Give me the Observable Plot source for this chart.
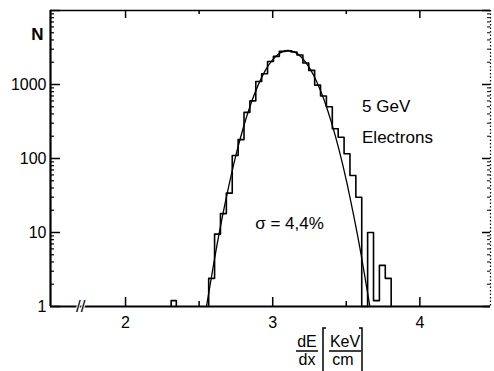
<!DOCTYPE html>
<html><head><meta charset="utf-8">
<script src="https://cdn.jsdelivr.net/npm/d3@7"></script>
<script src="https://cdn.jsdelivr.net/npm/@observablehq/plot@0.6"></script>
<style>
body{margin:0;background:#fff;}
#chart svg{display:block;font-family:"Liberation Sans",Arial,sans-serif;}
</style>
</head><body><div id="chart"></div>
<script>
// Histogram bin edges (dE/dx, KeV/cm) and counts N
const binEdges = [2.565,2.605,2.645,2.685,2.725,2.765,2.805,2.845,2.885,2.925,2.965,3.005,3.045,3.085,3.125,3.165,3.205,3.245,3.285,3.325,3.365,3.405,3.445,3.485,3.525,3.565,3.605,3.645,3.685,3.725,3.765,3.805];
const binCounts = [2.4,9.5,18,34,110,180,420,600,1100,1400,2050,2400,2800,2850,2750,2500,1950,1550,980,700,500,252,194,116,59,30,1,10,1.2,3.6,2.4];
// isolated low bin
const lowBinEdges = [2.31, 2.345];
const lowBinCounts = [1.2];
// Gaussian fit curve
const fitX = [2.55,2.60,2.65,2.70,2.75,2.80,2.85,2.90,2.95,3.00,3.05,3.10,3.15,3.20,3.25,3.30,3.35,3.40,3.45,3.50,3.55,3.60,3.65,3.66];
const fitN = [1.0,3.9,13.6,41,111,260,536,973,1550,2170,2670,2880,2740,2285,1675,1080,611,303,133,51,17,5.1,1.33,1.0];
// axis ticks
const xTickLabels = [2,3,4];
const xMinorTicks = [2.5,3.5];
const yTickLabels = [1,10,100,1000];
const yMinor = [2,3,4,5,6,7,8,9,20,30,40,50,60,70,80,90,200,300,400,500,600,700,800,900,2000,3000,4000,5000,6000,7000,8000,9000];
const xDomain = [1.49, 4.48];
const yDomain = [1, 10000];

function stepPoints(edges, counts) {
  const pts = [{x: edges[0], y: 1}];
  counts.forEach((c, i) => pts.push({x: edges[i], y: c}));
  pts.push({x: edges[edges.length - 1], y: 1});
  return pts;
}
const hist = stepPoints(binEdges, binCounts);
const lowHist = stepPoints(lowBinEdges, lowBinCounts);
const fit = fitX.map((x, i) => ({x, y: fitN[i]}));

const W = 494, H = 371, mL = 50, mR = 4, mT = 10, mB = 65;
const plotH = H - mT - mB, plotW = W - mL - mR;
const FONT = '"Liberation Sans",Arial,sans-serif';

const chart = Plot.plot({
  width: W, height: H,
  marginLeft: mL, marginRight: mR, marginTop: mT, marginBottom: mB,
  x: {domain: xDomain},
  y: {type: "log", domain: yDomain},
  style: {fontSize: "16px", fontFamily: FONT, color: "#000", background: "#fff"},
  marks: [
    // frame
    Plot.ruleX([xDomain[0]], {stroke: "#000", strokeWidth: 2.2}),
    Plot.ruleX([xDomain[1]], {stroke: "#000", strokeWidth: 1.2, strokeDasharray: "1.5,2"}),
    Plot.ruleY([yDomain[0]], {stroke: "#000", strokeWidth: 2.2}),
    Plot.ruleY([yDomain[1]], {stroke: "#000", strokeWidth: 1.6}),
    // bottom ticks (inward)
    Plot.tickX(xTickLabels, {x: d => d, stroke: "#000", strokeWidth: 1.5, insetTop: plotH - 9}),
    Plot.tickX(xMinorTicks, {x: d => d, stroke: "#000", strokeWidth: 1.5, insetTop: plotH - 5}),
    // top ticks (inward)
    Plot.tickX(xTickLabels, {x: d => d, stroke: "#000", strokeWidth: 1.5, insetBottom: plotH - 8}),
    Plot.tickX(xMinorTicks, {x: d => d, stroke: "#000", strokeWidth: 1.5, insetBottom: plotH - 4}),
    // left ticks
    Plot.tickY(yTickLabels.concat([10000]), {y: d => d, stroke: "#000", strokeWidth: 1.5, insetRight: plotW - 10}),
    Plot.tickY(yMinor, {y: d => d, stroke: "#000", strokeWidth: 1.2, insetRight: plotW - 4}),
    // right ticks
    Plot.tickY(yTickLabels.concat([10000]), {y: d => d, stroke: "#000", strokeWidth: 1.5, insetLeft: plotW - 8}),
    Plot.tickY(yMinor, {y: d => d, stroke: "#000", strokeWidth: 1, insetLeft: plotW - 3}),
    // axis labels
    Plot.axisX({ticks: xTickLabels, tickSize: 0, tickPadding: 10, tickFormat: d => String(d), fontSize: 16, label: null}),
    Plot.axisY({ticks: yTickLabels, tickSize: 0, tickPadding: 4, tickFormat: d => String(d), fontSize: 16, label: null}),
    // axis break
    Plot.text(["//"], {x: 1.695, y: 1, text: d => d, fontSize: 17, fill: "#000", stroke: "#fff", strokeWidth: 2, dy: 0}),
    // histogram and fit
    Plot.line(hist, {x: "x", y: "y", curve: "step-after", stroke: "#000", strokeWidth: 1.6}),
    Plot.line(lowHist, {x: "x", y: "y", curve: "step-after", stroke: "#000", strokeWidth: 1.6}),
    Plot.line(fit, {x: "x", y: "y", curve: "natural", stroke: "#000", strokeWidth: 1.3}),
    // annotations
    Plot.text(["5 GeV"], {x: 3.607, y: 420, text: d => d, textAnchor: "start", lineAnchor: "bottom", fontSize: 17, letterSpacing: 0.3}),
    Plot.text(["Electrons"], {x: 3.607, y: 164, text: d => d, textAnchor: "start", lineAnchor: "bottom", fontSize: 17, letterSpacing: 1.3}),
    Plot.text(["σ = 4,4%"], {x: 2.881, y: 11.3, text: d => d, textAnchor: "start", lineAnchor: "bottom", fontSize: 17, letterSpacing: 1.2}),
    Plot.text(["N"], {frameAnchor: "top-left", text: d => d, dx: -13, dy: 17, fontSize: 17, fontWeight: "bold", textAnchor: "middle"})
  ]
});
document.getElementById("chart").appendChild(chart);

// x-axis label: dE/dx [KeV/cm]
const svg = d3.select(chart);
const g = svg.append("g").attr("fill", "#000").attr("font-size", 16).attr("font-family", FONT);
g.append("text").attr("x", 307).attr("y", 347).attr("text-anchor", "middle").text("dE");
g.append("text").attr("x", 307).attr("y", 365).attr("text-anchor", "middle").text("dx");
g.append("text").attr("x", 345).attr("y", 347).attr("text-anchor", "middle").text("KeV");
g.append("text").attr("x", 343).attr("y", 365).attr("text-anchor", "middle").text("cm");
const ln = svg.append("g").attr("stroke", "#000").attr("fill", "none").attr("stroke-width", 1.5);
ln.append("line").attr("x1", 296).attr("x2", 318).attr("y1", 351).attr("y2", 351);
ln.append("line").attr("x1", 329).attr("x2", 361).attr("y1", 351).attr("y2", 351);
ln.append("path").attr("d", "M326,328 H323 V371");
ln.append("path").attr("d", "M359,328 H362 V371");
</script>
</body></html>
